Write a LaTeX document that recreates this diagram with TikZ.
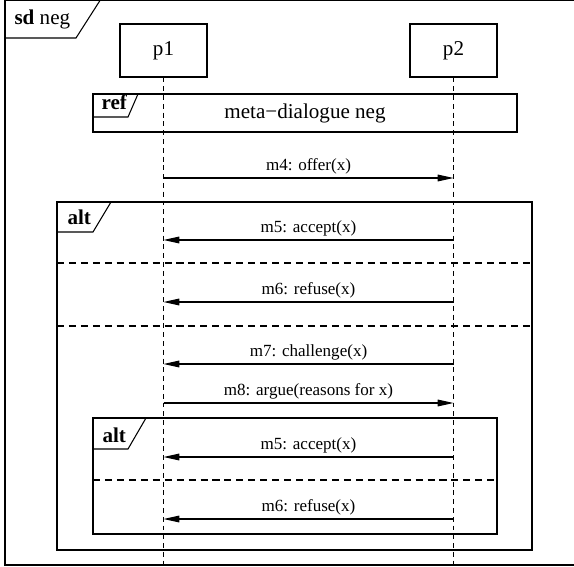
\documentclass[tikz,border=0pt]{standalone}
\usepackage{fontspec}
\setmainfont{Liberation Serif}
\usetikzlibrary{arrows.meta}

\tikzset{
  lifeline/.style={dash pattern=on 2.8pt off 2.2pt},
  divider/.style={dash pattern=on 4pt off 2.8pt},
  msg/.style={-{Triangle[length=9pt,width=3.8pt]}},
  msgtext/.style={midway, anchor=base, yshift=4pt, inner sep=0pt, font=\fontsize{9.7}{11}\selectfont},
  tag/.style={anchor=base west, inner sep=0pt, font=\fontsize{12}{14}\selectfont\bfseries},
  party/.style={draw, minimum width=1.74cm, minimum height=1.06cm, font=\fontsize{12}{14}\selectfont}
}

\begin{document}
\begin{tikzpicture}[x=0.02cm,y=-0.02cm,line width=0.6pt]
\useasboundingbox (0,0) rectangle (574,567);

% outer frame
\draw (5,0.5) rectangle (580,565);
\draw (5,38) -- (76,38) -- (100,0.5);
\node[tag] (sd) at (14,25) {sd \mdseries neg};

% parties and lifelines
\node[party] (p1) at (163.5,50.5) {p1};
\node[party] (p2) at (453.5,50.5) {p2};
\coordinate (bottom) at (0,570);
\draw[lifeline] (p1.south) -- (p1 |- bottom);
\draw[lifeline] (p2.south) -- (p2 |- bottom);

% ref
\draw (93,94) rectangle (517,132);
\draw (93,117) -- (128,117) -- (138,94);
\node[tag] (ref) at (101,110) {ref};
\node[font=\fontsize{12}{14}\selectfont] (refname) at (305,113) {meta−dialogue neg};

% outer alt
\draw (57,202) rectangle (532,550);
\draw (57,232) -- (93,232) -- (111,202);
\node[tag] (alt1) at (67,225) {alt};
\foreach \y in {263,326} \draw[divider] (57,\y) -- (532,\y);

% inner alt
\draw (93,418) rectangle (497,534);
\draw (93,449) -- (128,449) -- (146,418);
\node[tag] (alt2) at (102,442) {alt};
\draw[divider] (93,480) -- (497,480);

% messages
\foreach \y/\from/\to/\txt [count=\i] in {
  178/p1/p2/{m4: offer(x)},
  240/p2/p1/{m5: accept(x)},
  302/p2/p1/{m6: refuse(x)},
  364/p2/p1/{m7: challenge(x)},
  403/p1/p2/{m8: argue(reasons for x)},
  457/p2/p1/{m5: accept(x)},
  519/p2/p1/{m6: refuse(x)}} {
  \coordinate (y\i) at (0,\y);
  \draw[msg] (\from |- y\i) -- (\to |- y\i) node[msgtext] (m\i) {\txt};
}

\end{tikzpicture}
\end{document}
